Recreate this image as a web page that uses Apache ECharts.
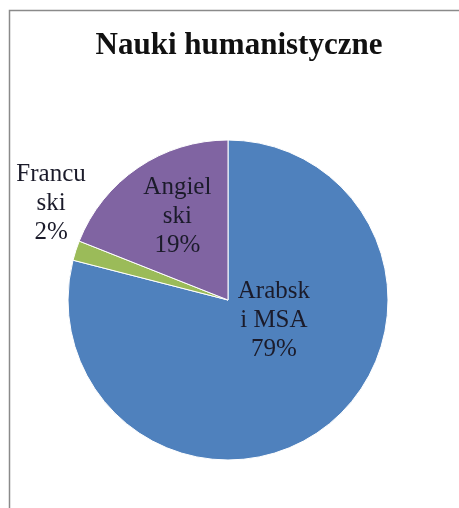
<!DOCTYPE html>
<html>
<head>
<meta charset="utf-8">
<script src="https://cdn.jsdelivr.net/npm/echarts@6/dist/echarts.min.js"></script>
<style>
  html, body { margin: 0; padding: 0; background: #fff; }
  #chart { width: 459px; height: 508px; }
</style>
</head>
<body>
<div id="chart"></div>
<script>
// Language shares in the humanities
const categories = ['Arabski i MSA', 'Francuski', 'Angielski'];
const labelTexts = ['Arabsk\ni MSA', 'Francu\nski', 'Angiel\nski'];
const shares = [79, 2, 19];
const colors = ['#4F81BD', '#9BBB59', '#8064A2'];

// per-slice label nudges from the default inside position
const labelOffsets = [[-5, -45], [-98, -71], [-4, -15]];

const chart = echarts.init(document.getElementById('chart'), null, { renderer: 'canvas' });

const seriesData = categories.map((name, i) => ({
  name: name,
  value: shares[i],
  itemStyle: { color: colors[i] },
  label: { offset: labelOffsets[i] }
}));

chart.setOption({
  animation: false,
  backgroundColor: '#ffffff',
  title: {
    text: 'Nauki humanistyczne',
    left: 234,
    top: 25,
    textAlign: 'center',
    textStyle: {
      fontFamily: '"Liberation Serif", "DejaVu Serif", serif',
      fontWeight: 'bold',
      fontSize: 31,
      color: '#111'
    }
  },
  graphic: [{
    type: 'rect',
    shape: { x: 9.5, y: 10.5, width: 470, height: 520 },
    style: { fill: 'none', stroke: '#8a8a8a', lineWidth: 1.5 },
    silent: true
  }],
  series: [{
    type: 'pie',
    center: [228, 300],
    radius: [0, 160],
    startAngle: 90,
    clockwise: true,
    avoidLabelOverlap: false,
    itemStyle: { borderColor: '#ffffff', borderWidth: 1 },
    label: {
      show: true,
      position: 'inside',
      formatter: (p) => labelTexts[p.dataIndex] + '\n' + Math.round(p.percent) + '%',
      fontFamily: '"Liberation Serif", "DejaVu Serif", serif',
      fontSize: 25,
      lineHeight: 29,
      color: '#1b1b2a',
      align: 'center'
    },
    labelLine: { show: false },
    emphasis: { disabled: true },
    data: seriesData
  }]
});
</script>
</body>
</html>
